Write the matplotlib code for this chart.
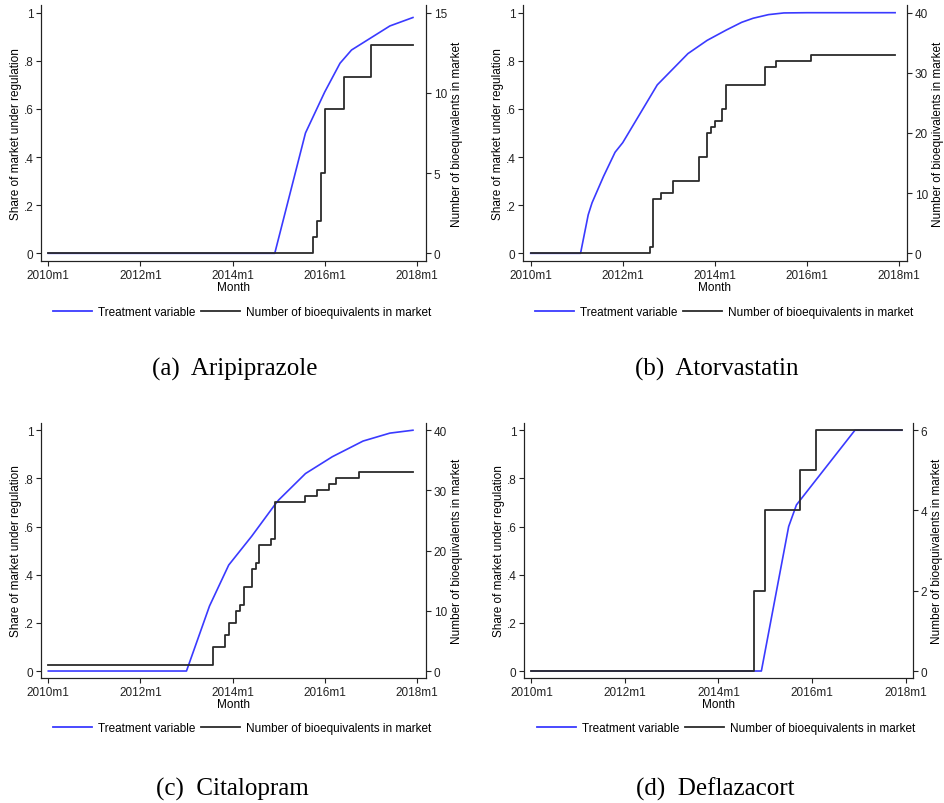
import matplotlib
matplotlib.use("Agg")
import matplotlib.pyplot as plt
from matplotlib.lines import Line2D

plt.rcParams['font.family'] = ['Liberation Sans', 'DejaVu Sans']

W, H = 945, 804

# months counted from 2010m1 (= 0)
xtick_pos = [0, 24, 48, 72, 96]
xtick_lab = ['2010m1', '2012m1', '2014m1', '2016m1', '2018m1']
ytick_pos = [0, 0.2, 0.4, 0.6, 0.8, 1]
ytick_lab = ['0', '.2', '.4', '.6', '.8', '1']

# (a) Aripiprazole
arip_treat_m = [0, 59, 67, 72, 75, 76, 79, 89, 95]
arip_treat_v = [0, 0, 0.50, 0.67, 0.76, 0.79, 0.845, 0.945, 0.98]
arip_bio_m = [0, 69, 70, 71, 72, 77, 84, 95]
arip_bio_v = [0, 1, 2, 5, 9, 11, 13, 13]

# (b) Atorvastatin
ator_treat_m = [0, 13, 14, 15, 16, 19, 22, 24, 33, 41, 46, 51, 55, 58, 62, 66, 72, 95]
ator_treat_v = [0, 0, 0.08, 0.16, 0.21, 0.32, 0.42, 0.46, 0.70, 0.83, 0.885, 0.928, 0.96, 0.977, 0.992, 0.999, 1.0, 1.0]
ator_bio_m = [0, 31, 32, 34, 37, 44, 46, 47, 48, 50, 51, 61, 64, 73, 95]
ator_bio_v = [0, 1, 9, 10, 12, 16, 20, 21, 22, 24, 28, 31, 32, 33, 33]

# (c) Citalopram
cita_treat_m = [0, 36, 42, 47, 53, 59, 60, 67, 74, 82, 89, 95]
cita_treat_v = [0, 0, 0.27, 0.44, 0.56, 0.69, 0.71, 0.82, 0.89, 0.955, 0.988, 1.0]
cita_bio_m = [0, 43, 46, 47, 49, 50, 51, 53, 54, 55, 58, 59, 67, 70, 73, 75, 81, 95]
cita_bio_v = [1, 4, 6, 8, 10, 11, 14, 17, 18, 21, 22, 28, 29, 30, 31, 32, 33, 33]

# (d) Deflazacort
defl_treat_m = [0, 59, 66, 68, 83, 95]
defl_treat_v = [0, 0, 0.60, 0.69, 1.0, 1.0]
defl_bio_m = [0, 57, 60, 69, 73, 95]
defl_bio_v = [0, 2, 4, 5, 6, 6]

blue = '#3a3aff'
dark = '#2b2b2b'

fig = plt.figure(figsize=(W / 100, H / 100), dpi=100)

def px_axes(l, t, r, b):
    return fig.add_axes([l / W, 1 - b / H, (r - l) / W, (b - t) / H])

def panel(box, xlim, ylo, yhi, treat_m, treat_v, bio_m, bio_v, bio_max, bio_ticks,
          leg_xy, cap_xy, caption):
    ax = px_axes(*box)
    ax.plot(treat_m, treat_v, color=blue, lw=1.2)
    ax.set_xlim(*xlim)
    ax.set_ylim(ylo, yhi)
    ax.set_xticks(xtick_pos, xtick_lab)
    ax.set_yticks(ytick_pos, ytick_lab)
    ax.set_xlabel('Month', fontsize=8.5, labelpad=0)
    ax.set_ylabel('Share of market under regulation', fontsize=8.5, labelpad=1)
    ax2 = ax.twinx()
    ax2.step(bio_m, bio_v, where='post', color=dark, lw=1.3)
    ax2.set_ylim(ylo * bio_max, yhi * bio_max)
    ax2.set_yticks(bio_ticks)
    ax2.set_ylabel('Number of bioequivalents in market', fontsize=8.5, labelpad=3)
    for a in (ax, ax2):
        a.spines['top'].set_visible(False)
        for s in a.spines.values():
            s.set_linewidth(0.8)
            s.set_color('#222222')
        a.tick_params(direction='out', length=3.5, width=0.8, labelsize=8.5, pad=2,
                      colors='#222222')
    handles = [Line2D([], [], color=blue, lw=1.3), Line2D([], [], color=dark, lw=1.3)]
    fig.legend(handles, ['Treatment variable', 'Number of bioequivalents in market'],
               loc='center', bbox_to_anchor=(leg_xy[0] / W, 1 - leg_xy[1] / H),
               ncol=2, frameon=False, fontsize=8.5, handlelength=3.3,
               handletextpad=0.5, columnspacing=0.5)
    fig.text(cap_xy[0] / W, 1 - cap_xy[1] / H, caption, ha='center', va='center',
             fontsize=18, family='Liberation Serif')

panel((41, 6, 426, 262), (-1.9, 98.4), -0.032, 1.032,
      arip_treat_m, arip_treat_v, arip_bio_m, arip_bio_v, 15, [0, 5, 10, 15],
      (242, 313), (235, 369), '(a)  Aripiprazole')
panel((523, 6, 907, 262), (-2.0, 98.1), -0.032, 1.032,
      ator_treat_m, ator_treat_v, ator_bio_m, ator_bio_v, 40, [0, 10, 20, 30, 40],
      (724, 313), (717, 369), '(b)  Atorvastatin')
panel((41, 424, 426, 679), (-1.9, 98.4), -0.029, 1.030,
      cita_treat_m, cita_treat_v, cita_bio_m, cita_bio_v, 40, [0, 10, 20, 30, 40],
      (242, 729), (232, 789), '(c)  Citalopram')
panel((524, 424, 913, 679), (-1.9, 97.9), -0.029, 1.030,
      defl_treat_m, defl_treat_v, defl_bio_m, defl_bio_v, 6, [0, 2, 4, 6],
      (726, 729), (715, 789), '(d)  Deflazacort')

fig.savefig('out.png', dpi=100)
